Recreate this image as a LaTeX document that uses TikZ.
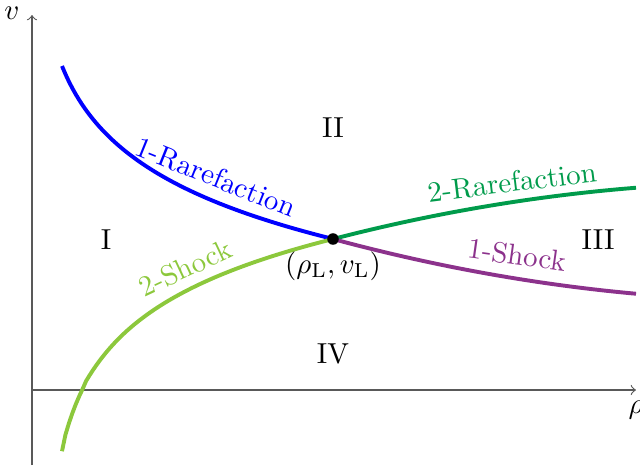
\documentclass[tikz,border=0pt]{standalone}
\definecolor{rarefone}{RGB}{0,0,255}
\definecolor{rareftwo}{RGB}{0,155,75}
\definecolor{shockone}{RGB}{140,50,140}
\definecolor{shocktwo}{RGB}{140,200,60}
\begin{document}
\begin{tikzpicture}[x=0.346pt, y=-0.346pt]
  % canvas in pixel units, y pointing down
  \useasboundingbox (0,0) rectangle (640,467);
  % left state (rho_L, v_L)
  \def\rl{333}\def\vl{239}

  % axes
  \draw[->, black!65] (32,390) -- (636,390);
  \draw[->, black!65] (32,465) -- (32,15);
  \node (rholab) at (636,410) {$\rho$};
  \node (vlab) at (12,13) {$v$};

  % wave curves through the left state
  \draw[line width=1.35pt, rarefone] plot[domain=62:\rl, samples=80]
    (\x, {66+75*ln((\x-32)/30)});
  \draw[line width=1.35pt, rareftwo] plot[domain=\rl:636, samples=60]
    (\x, {\vl-0.2586*(\x-\rl)+2.95*((\x-\rl)/100)^2});
  \draw[line width=1.35pt, shockone] plot[domain=\rl:636, samples=60]
    (\x, {\vl+0.27*(\x-\rl)-2.95*((\x-\rl)/100)^2});
  \draw[line width=1.35pt, shocktwo] plot[domain=62:\rl, samples=80]
    (\x, {\vl-72*ln((\x-47)/286)});

  % state point
  \fill (\rl,\vl) circle (2pt);
  \node (left) at (\rl,266) {$(\rho_{\mathrm{L}}, v_{\mathrm{L}})$};

  % curve labels
  \node[rarefone, rotate=-22] (raref1) at (216,177) {1-Rarefaction};
  \node[rareftwo, rotate=7] (raref2) at (512,182) {2-Rarefaction};
  \node[shocktwo, rotate=25] (shock2) at (185,268) {2-Shock};
  \node[shockone, rotate=-8] (shock1) at (517,255) {1-Shock};

  % regions
  \node (regI) at (106,240) {I};
  \node (regII) at (333,128) {II};
  \node (regIII) at (598,240) {III};
  \node (regIV) at (333,354) {IV};
\end{tikzpicture}
\end{document}
